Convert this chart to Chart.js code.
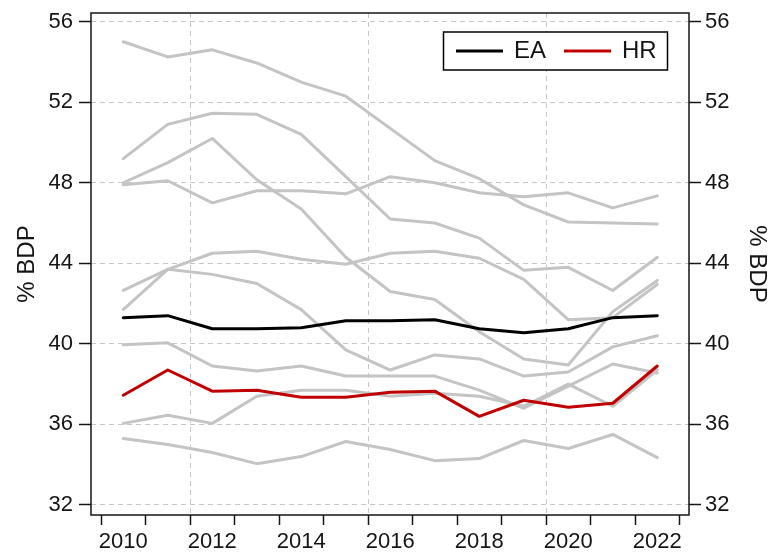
<!DOCTYPE html>
<html>
<head>
<meta charset="utf-8">
<script src="https://cdn.jsdelivr.net/npm/chart.js@4.4.1/dist/chart.umd.min.js"></script>
<style>
  html, body { margin: 0; padding: 0; background: #fff; }
  #chart { display: block; }
</style>
</head>
<body>
<canvas id="chart" width="769" height="554"></canvas>
<script>
// annual values, % of GDP
const years = [2010, 2011, 2012, 2013, 2014, 2015, 2016, 2017, 2018, 2019, 2020, 2021, 2022];

const eaValues = [41.3, 41.4, 40.75, 40.75, 40.8, 41.15, 41.15, 41.2, 40.75, 40.55, 40.75, 41.3, 41.4];
const hrValues = [37.45, 38.7, 37.65, 37.7, 37.35, 37.35, 37.6, 37.65, 36.4, 37.2, 36.85, 37.05, 38.9];

// other member states (grey)
const other1 = [55.0, 54.25, 54.6, 53.95, 53.0, 52.3, 50.7, 49.1, 48.2, 46.9, 46.05, 46.0, 45.95];
const other2 = [47.9, 48.1, 47.0, 47.6, 47.6, 47.45, 48.3, 48.0, 47.5, 47.3, 47.5, 46.75, 47.35];
const other3 = [48.0, 49.0, 50.2, 48.15, 46.7, 44.3, 42.6, 42.2, 40.6, 39.25, 38.95, 41.6, 43.15];
const other4 = [49.2, 50.9, 51.45, 51.4, 50.4, 48.3, 46.2, 46.0, 45.25, 43.65, 43.8, 42.65, 44.3];
const other5 = [42.65, 43.7, 44.5, 44.6, 44.2, 43.95, 44.5, 44.6, 44.25, 43.2, 41.2, 41.3, 42.95];
const other6 = [41.7, 43.7, 43.45, 43.0, 41.7, 39.7, 38.7, 39.45, 39.25, 38.4, 38.6, 39.85, 40.4];
const other7 = [39.95, 40.05, 38.9, 38.65, 38.9, 38.4, 38.4, 38.4, 37.7, 36.8, 37.9, 39.0, 38.55];
const other8 = [36.05, 36.45, 36.05, 37.4, 37.7, 37.7, 37.4, 37.55, 37.4, 36.9, 38.0, 36.9, 38.7];
const other9 = [35.3, 35.0, 34.6, 34.05, 34.4, 35.15, 34.75, 34.2, 34.3, 35.2, 34.8, 35.5, 34.35];
const others = [other1, other2, other3, other4, other5, other6, other7, other8, other9];

const yTicks = [32, 36, 40, 44, 48, 52, 56];
const gridYears = [2012, 2016, 2020];

const FONT = '"Liberation Sans", Arial, sans-serif';
const INK = '#151515';
const GREY = '#c4c4c4';
const GRID = '#c6c6c6';

const toPoints = vals => vals.map((v, i) => ({ x: years[i], y: v }));

const datasets = [
  { label: 'EA', data: toPoints(eaValues), borderColor: '#000000', order: 0 },
  { label: 'HR', data: toPoints(hrValues), borderColor: '#c00000', order: 0 },
];
others.forEach((vals, i) => {
  datasets.push({ label: 'other' + (i + 1), data: toPoints(vals), borderColor: GREY, order: 1, hideInLegend: true });
});

// year boundaries carry the tick marks, labels sit in the middle of each year
const yearEdges = years.map(y => y - 0.5).concat(years[years.length - 1] + 0.5);

const yAxis = (position) => ({
  type: 'linear',
  position: position,
  min: 31.5,
  max: 56.43,
  afterBuildTicks: s => { s.ticks = yTicks.map(v => ({ value: v })); },
  afterFit: s => {
    s.width = position === 'left' ? 91 : 80;
    s.paddingTop = 0;
    s.paddingBottom = 0;
  },
  border: { display: false, dash: [5, 4] },
  grid: {
    drawOnChartArea: position === 'left',
    color: GRID,
    lineWidth: 1,
    tickLength: 12,
    tickColor: INK,
    tickWidth: 1.5,
    tickBorderDash: []
  },
  ticks: {
    padding: position === 'left' ? 6 : 4,
    color: INK,
    font: { family: FONT, size: 22 }
  },
  title: {
    display: true,
    text: '% BDP',
    color: INK,
    font: { family: FONT, size: 24, lineHeight: 1 },
    padding: { top: position === 'left' ? 15 : 0, bottom: 0 }
  }
});

// frame round the plot and the small legend box
const framePlugin = {
  id: 'frame',
  afterDraw(chart) {
    const { ctx, chartArea: a } = chart;
    ctx.save();
    ctx.strokeStyle = INK;
    ctx.lineWidth = 1.5;
    ctx.strokeRect(a.left, a.top, a.right - a.left, a.bottom - a.top);

    const bw = 224, bh = 38;
    const bx = a.right - 21.5 - bw, by = a.top + 19;
    ctx.fillStyle = '#fff';
    ctx.fillRect(bx, by, bw, bh);
    ctx.lineWidth = 1.5;
    ctx.strokeStyle = '#000';
    ctx.strokeRect(bx, by, bw, bh);

    const items = chart.data.datasets.filter(d => !d.hideInLegend);
    ctx.font = '24px ' + FONT;
    ctx.textBaseline = 'alphabetic';
    items.forEach((d, i) => {
      const x0 = bx + 12.5 + i * 108;
      const ly = by + bh / 2;
      ctx.beginPath();
      ctx.strokeStyle = d.borderColor;
      ctx.lineWidth = 3;
      ctx.moveTo(x0, ly);
      ctx.lineTo(x0 + 47, ly);
      ctx.stroke();
      ctx.fillStyle = INK;
      ctx.fillText(d.label, x0 + 58, by + 26);
    });
    ctx.restore();
  }
};

new Chart(document.getElementById('chart'), {
  type: 'line',
  data: { datasets },
  options: {
    responsive: false,
    animation: false,
    layout: { padding: { top: 13, left: 0, right: 0, bottom: 0 } },
    elements: {
      point: { radius: 0 },
      line: { borderWidth: 3, tension: 0, fill: false, borderJoinStyle: 'round', borderCapStyle: 'round' }
    },
    plugins: {
      legend: { display: false },
      tooltip: { enabled: false }
    },
    scales: {
      x: {
        type: 'linear',
        position: 'bottom',
        min: 2009.275,
        max: 2022.713,
        afterBuildTicks: s => { s.ticks = yearEdges.map(v => ({ value: v })); },
        afterFit: s => {
          s.height = 39;
          s.paddingLeft = 0;
          s.paddingRight = 0;
        },
        border: { display: false, dash: [5, 4] },
        grid: {
          color: c => (c.tick && gridYears.includes(Math.round(c.tick.value + 0.5))) ? GRID : 'rgba(0,0,0,0)',
          lineWidth: 1,
          tickLength: 10,
          tickColor: INK,
          tickWidth: 1.5,
          tickBorderDash: []
        },
        ticks: {
          autoSkip: false,
          maxRotation: 0,
          padding: 4,
          labelOffset: 22.3,
          color: INK,
          font: { family: FONT, size: 22 },
          callback: v => {
            const yr = Math.round(v + 0.5);
            return yr % 2 === 0 ? String(yr) : '';
          }
        }
      },
      y: yAxis('left'),
      y2: yAxis('right')
    }
  },
  plugins: [framePlugin]
});
</script>
</body>
</html>
